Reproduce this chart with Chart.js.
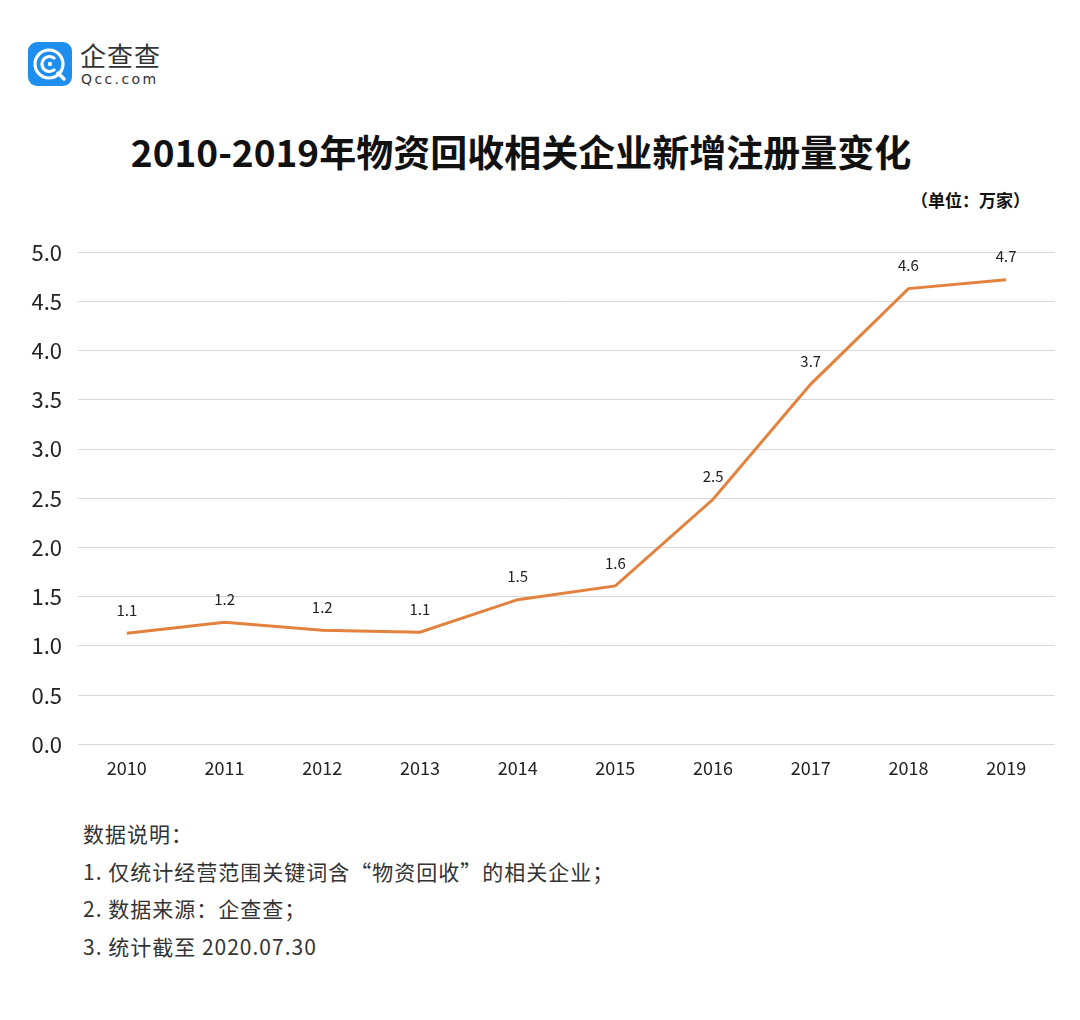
<!DOCTYPE html>
<html>
<head>
<meta charset="utf-8">
<script src="https://cdn.jsdelivr.net/npm/chart.js@4.4.0/dist/chart.umd.min.js"></script>
<style>
  body { margin: 0; background: #fff; font-family: "Noto Sans CJK SC", "Noto Sans", sans-serif; }
  #page { position: relative; width: 1080px; height: 1020px; overflow: hidden; background: #fff; }
  #logo { position: absolute; left: 28px; top: 42px; }
  #logoName { position: absolute; left: 80px; top: 36px; font-size: 26px; color: #333; letter-spacing: 1px; }
  #logoUrl { position: absolute; left: 81px; top: 71px; font-size: 14px; color: #333; letter-spacing: 2.4px; font-family: "DejaVu Sans", sans-serif; }
  #title { position: absolute; left: 0; width: 1042px; top: 124px; text-align: center; font-size: 37px; font-weight: bold; color: #111; }
  #unit { position: absolute; right: 50px; top: 187px; font-size: 17px; font-weight: bold; color: #111; }
  #box { position: absolute; left: 0; top: 223px; width: 1080px; height: 569px; }
  #notes { position: absolute; left: 83px; top: 815px; font-size: 21px; letter-spacing: 1px; color: #333; line-height: 37.5px; }
</style>
</head>
<body>
<div id="page">
  <svg id="logo" width="44" height="44" viewBox="0 0 44 44">
    <rect x="0" y="0" width="44" height="44" rx="9" fill="#1f8ef1"/>
    <circle cx="21" cy="22" r="14" fill="none" stroke="#fff" stroke-width="3.2"/>
    <path d="M27 17 A7.5 7.5 0 1 0 27 27" fill="none" stroke="#fff" stroke-width="3.2"/>
    <circle cx="22" cy="22" r="2.2" fill="#fff"/>
    <path d="M30 31 L36 37" stroke="#fff" stroke-width="3.4" stroke-linecap="round"/>
  </svg>
  <div id="logoName">企查查</div>
  <div id="logoUrl">Qcc.com</div>
  <div id="title">2010-2019年物资回收相关企业新增注册量变化</div>
  <div id="unit">（单位：万家）</div>
  <div id="box"><canvas id="line-chart"></canvas></div>
  <div id="notes">
    数据说明：<br>
    1. 仅统计经营范围关键词含“物资回收”的相关企业；<br>
    2. 数据来源：企查查；<br>
    3. 统计截至 2020.07.30
  </div>
</div>
<script>
var anni = ['2010', '2011', '2012', '2013', '2014', '2015', '2016', '2017', '2018', '2019'];
var nuoveImprese = [1.13, 1.24, 1.16, 1.14, 1.47, 1.61, 2.49, 3.66, 4.63, 4.72];
var etichette = ['1.1', '1.2', '1.2', '1.1', '1.5', '1.6', '2.5', '3.7', '4.6', '4.7'];

// etichette sopra i punti
var valoriPlugin = {
    id: 'valori',
    afterDatasetsDraw: function(chart) {
        var ctx = chart.ctx;
        var meta = chart.getDatasetMeta(0);
        ctx.save();
        ctx.font = '15px "Noto Sans CJK SC", sans-serif';
        ctx.fillStyle = '#222';
        ctx.textAlign = 'center';
        ctx.textBaseline = 'middle';
        meta.data.forEach(function(pt, i) {
            ctx.fillText(etichette[i], pt.x, pt.y - 23);
        });
        ctx.restore();
    }
};

var ctx = document.getElementById('line-chart');
var chart = new Chart(ctx, {
    type: 'line',
    data: {
        labels: anni,
        datasets: [{
            label: '新增注册量',
            borderColor: '#e2823e',
            borderWidth: 3,
            pointRadius: 0,
            fill: false,
            tension: 0,
            data: nuoveImprese
        }]
    },
    options: {
        responsive: true,
        maintainAspectRatio: false,
        animation: false,
        layout: { padding: { top: 16, right: 25, bottom: 0, left: 0 } },
        plugins: { legend: { display: false }, tooltip: { enabled: false } },
        scales: {
            x: {
                offset: true,
                grid: { display: false, drawTicks: false },
                border: { display: false },
                ticks: { padding: 13, color: '#222', font: { size: 18, family: '"Noto Sans CJK SC", sans-serif' } }
            },
            y: {
                min: 0,
                max: 5,
                afterFit: function(scale) { scale.width = 78; },
                grid: { color: '#d9d9d9', drawTicks: false },
                border: { display: false },
                ticks: {
                    stepSize: 0.5,
                    padding: 16,
                    color: '#222',
                    font: { size: 22, family: '"Noto Sans CJK SC", sans-serif' },
                    callback: function(v) { return v.toFixed(1); }
                }
            }
        }
    },
    plugins: [valoriPlugin]
});
</script>
</body>
</html>
